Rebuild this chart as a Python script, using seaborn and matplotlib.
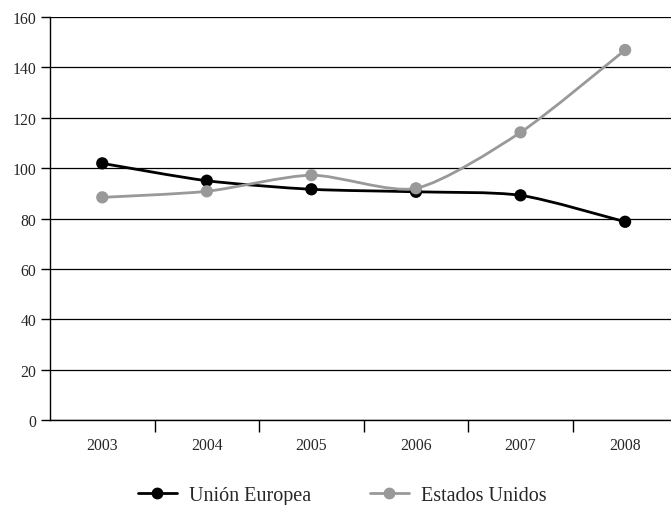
import matplotlib
matplotlib.use("Agg")
import matplotlib.pyplot as plt
from matplotlib.path import Path
from matplotlib.patches import PathPatch
from matplotlib.lines import Line2D
import seaborn as sns
import pandas as pd

years = ["2003", "2004", "2005", "2006", "2007", "2008"]
union_europea = [101.9, 95.0, 91.6, 90.6, 89.2, 78.7]
estados_unidos = [88.4, 90.8, 97.2, 92.0, 114.2, 146.9]
series_names = ["Unión Europea", "Estados Unidos"]
series_colors = ["#000000", "#999999"]
y_ticks = [0, 20, 40, 60, 80, 100, 120, 140, 160]


# smoothed line like the spreadsheet one (Bezier segments through the points)
def smooth_path(xs, ys, k=1 / 8):
    verts = [(xs[0], ys[0])]
    codes = [Path.MOVETO]
    n = len(xs)
    for i in range(n - 1):
        x0, y0 = xs[max(i - 1, 0)], ys[max(i - 1, 0)]
        x1, y1 = xs[i], ys[i]
        x2, y2 = xs[i + 1], ys[i + 1]
        x3, y3 = xs[min(i + 2, n - 1)], ys[min(i + 2, n - 1)]
        c1 = (x1 + (x2 - x0) * k, y1 + (y2 - y0) * k)
        c2 = (x2 - (x3 - x1) * k, y2 - (y3 - y1) * k)
        verts += [c1, c2, (x2, y2)]
        codes += [Path.CURVE4] * 3
    return Path(verts, codes)


def main():
    sns.set_style("white")
    plt.rcParams["font.family"] = ["Liberation Serif", "DejaVu Serif"]

    df = pd.DataFrame({
        "year": years * 2,
        "x": list(range(len(years))) * 2,
        "value": union_europea + estados_unidos,
        "serie": [series_names[0]] * len(years) + [series_names[1]] * len(years),
    })

    fig = plt.figure(figsize=(6.71, 5.06), dpi=100)
    ax = fig.add_axes([0.0745, 0.168, 0.935, 0.7964])

    for name, color in zip(series_names, series_colors):
        sub = df[df["serie"] == name]
        ax.add_patch(PathPatch(smooth_path(list(sub["x"]), list(sub["value"])),
                               facecolor="none", edgecolor=color, lw=2.0, zorder=3))
        sns.scatterplot(x="x", y="value", data=sub, ax=ax, color=color, s=78,
                        edgecolor="none", zorder=4, legend=False)

    ax.set_xlim(-0.5, 5.5)
    ax.set_ylim(0, 160)
    ax.set_yticks(y_ticks)
    ax.set_yticklabels([str(t) for t in y_ticks], fontsize=11.3)
    ax.set_xticks(range(len(years)))
    ax.set_xticklabels(years, fontsize=11.3)
    ax.set_xticks([i + 0.5 for i in range(len(years) - 1)], minor=True)
    ax.tick_params(axis="x", which="major", length=0, pad=12)
    ax.tick_params(axis="x", which="minor", direction="out", length=8.5, width=1, color="black", bottom=True)
    ax.tick_params(axis="y", direction="out", length=6.5, width=1, color="black", left=True, pad=3.5)
    ax.set_xlabel("")
    ax.set_ylabel("")

    ax.yaxis.grid(True, color="black", lw=0.9)
    ax.set_axisbelow(True)
    for side in ["top", "right"]:
        ax.spines[side].set_visible(False)
    ax.spines["left"].set_color("black")
    ax.spines["left"].set_linewidth(1)
    ax.spines["bottom"].set_color("black")
    ax.spines["bottom"].set_linewidth(1)

    handles = [Line2D([], [], color=c, lw=2.0, marker="o", markersize=7.5) for c in series_colors]
    fig.legend(handles, series_names, loc="center", bbox_to_anchor=(0.51, 0.019), ncol=2,
               frameon=False, fontsize=14.5, handlelength=1.95, handletextpad=0.6,
               columnspacing=2.9, borderaxespad=0, borderpad=0)

    fig.savefig("out.png", dpi=100)
    plt.close(fig)


if __name__ == "__main__":
    main()
